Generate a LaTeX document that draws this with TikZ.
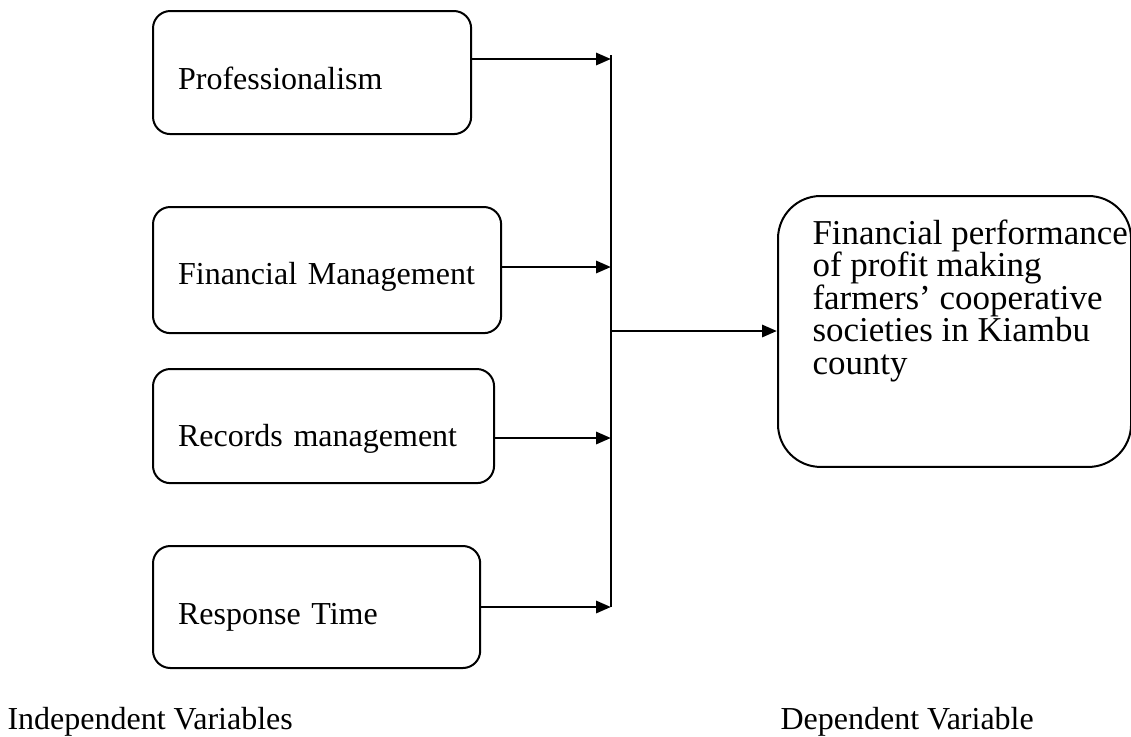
\documentclass[tikz,border=0pt]{standalone}
\usepackage{fontspec}
\setmainfont{Liberation Serif}
\usetikzlibrary{arrows.meta}

\tikzset{
  varbox/.style={rectangle, draw, line width=0.75pt, rounded corners=6.5pt,
    anchor=north west, inner xsep=9.4pt, inner ysep=0pt, align=left},
  link/.style={-{Triangle[length=5.6pt,width=4.5pt]}, line width=1.1pt}
}

\begin{document}
\begin{tikzpicture}[x=0.375pt, y=-0.375pt, font=\fontsize{12}{12.2}\selectfont]
  \useasboundingbox (0,0) rectangle (1131,736);

  % independent variables
  \node[varbox, text width=100.5pt, text height=29.25pt, text depth=16.9pt] (prof) at (152,10) {Professionalism};
  \node[varbox, text width=111.75pt, text height=28.9pt, text depth=18.4pt] (finman) at (152,206) {Financial Management};
  \node[varbox, text width=109.1pt, text height=28.9pt, text depth=13.9pt] (records) at (152,368) {Records management};
  \node[varbox, text width=103.9pt, text height=29.25pt, text depth=16.5pt] (resp) at (152,545) {Response Time};

  % dependent variable
  \node[varbox, rounded corners=16pt, minimum width=132.4pt, minimum height=101.6pt] (perf) at (777,195) {};
  \node[anchor=north west, inner sep=0pt, align=left, font=\fontsize{13.1}{12.2}\selectfont] (perftext) at (812,219)
    {Financial performance\\of profit making\\farmers’ cooperative\\societies in Kiambu\\county};

  % bus
  \coordinate (top) at (611,55);
  \coordinate (b1) at (611,59);
  \coordinate (b2) at (611,267);
  \coordinate (b3) at (611,438);
  \coordinate (b4) at (611,607);
  \coordinate (mid) at (611,331);

  \draw[line width=0.75pt] (top) -- (b4);
  \draw[link] (b1 -| prof.east) -- (b1);
  \draw[link] (b2 -| finman.east) -- (b2);
  \draw[link] (b3 -| records.east) -- (b3);
  \draw[link] (b4 -| resp.east) -- (b4);
  \draw[link] (mid) -- (mid -| perf.west);

  \node[anchor=base west, inner sep=0pt] (indeplab) at (7,729) {Independent Variables};
  \node[anchor=base west, inner sep=0pt] (deplab) at (780,729) {Dependent Variable};
\end{tikzpicture}
\end{document}
